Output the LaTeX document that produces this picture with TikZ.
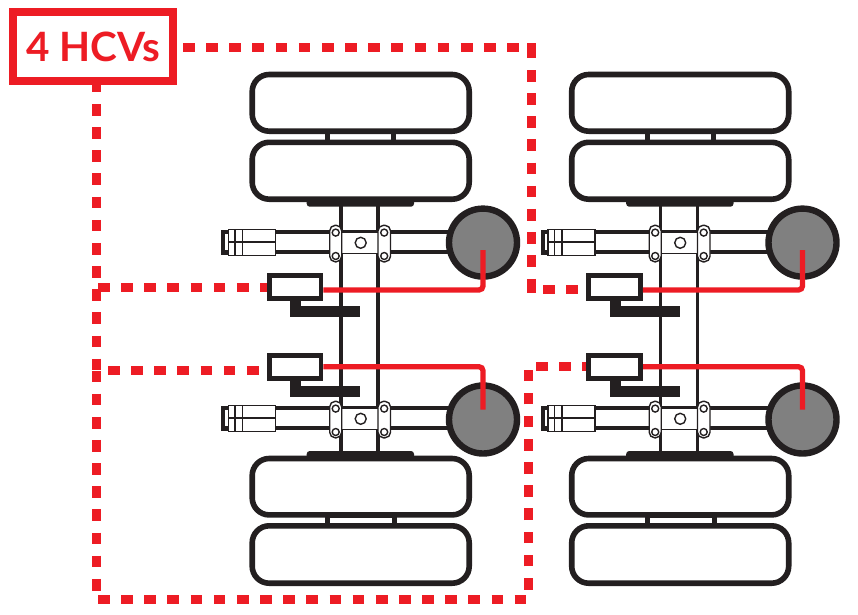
\documentclass[tikz,border=0pt]{standalone}
\usepackage{fontspec}
\setmainfont{Lato}
\definecolor{hcvred}{HTML}{ED1C24}
\definecolor{ink}{HTML}{231F20}
\definecolor{drum}{HTML}{808080}
\tikzset{
  tyre/.style={draw=ink,line width=5.6pt,rounded corners=17pt,fill=white},
  tubeline/.style={draw=ink,line width=4.2pt},
  framebar/.style={draw=ink,line width=3.8pt},
  thinline/.style={draw=ink,line width=1.5pt},
  linkline/.style={draw=ink,line width=5pt},
  redpipe/.style={draw=hcvred,line width=5.3pt,rounded corners=4pt},
  reddash/.style={draw=hcvred,line width=9pt,dash pattern=on 11.7pt off 11.45pt},
  valvebox/.style={draw=ink,line width=4.8pt,fill=white,minimum width=51.8pt,minimum height=22.9pt,inner sep=0pt},
  plate/.style={draw=ink,line width=1.4pt,fill=white,rounded corners=5.5pt},
  bolt/.style={draw=ink,line width=1.4pt,fill=white}
}
% #1 x offset, #2 y of upper tube line, #3 drum centre relative to it
\newcommand{\axlegroup}[3]{%
  \begin{scope}[xshift=#1pt,yshift=-#2pt]
    \draw[tubeline] (275,0) -- (450,0);
    \draw[tubeline] (275,20) -- (450,20);
    \fill[ink] (221,-2.5) rectangle (229,23);
    \fill[white] (225,2) rectangle (229,18);
    \draw[thinline,fill=white] (228.3,-3) rectangle (275.5,23);
    \draw[thinline] (228.3,9.7) -- (275.5,9.7);
    \draw[thinline] (235,-3) -- (235,23);
    \draw[thinline] (242.3,-3) -- (242.3,23);
    \draw[thinline,fill=white] (338,0) rectangle (381,21);
    \draw[bolt] (360.7,10.5) circle (5.5);
    \draw[plate] (329.7,-7) rectangle (341.7,29.5);
    \draw[plate] (378,-7) rectangle (390.5,29.5);
    \draw[bolt] (335.7,0.3) circle (3.5);
    \draw[bolt] (335.7,23.7) circle (3.5);
    \draw[bolt] (384.2,0.3) circle (3.5);
    \draw[bolt] (384.2,23.7) circle (3.5);
    \draw[draw=ink,line width=6.4pt,fill=drum] (483,#3) circle (34);
  \end{scope}}
\newcommand{\tyrebox}[3]{%
  \draw[tyre] (#1+252.2,#2) rectangle (#1+469.2,#3);}
\begin{document}
\begin{tikzpicture}[x=1pt,y=-1pt]
\useasboundingbox (0,0) rectangle (858,614);
\fill[white] (0,0) rectangle (858,614);
\foreach \dx/\n in {0/L,319.5/R}{
  \draw[framebar] (\dx+341,200) -- (\dx+341,456);
  \draw[framebar] (\dx+378,200) -- (\dx+378,456);
  \fill[ink,rounded corners=3pt] (\dx+306.7,190) rectangle (\dx+414,206.7);
  \fill[ink,rounded corners=3pt] (\dx+306.7,451) rectangle (\dx+414,470);
  \tyrebox{\dx}{74.5}{131.2}
  \tyrebox{\dx}{142.3}{199.2}
  \tyrebox{\dx}{458.5}{514.9}
  \tyrebox{\dx}{525.8}{583.2}
  \draw[linkline] (\dx+327.5,129) -- (\dx+327.5,144) (\dx+393.7,129) -- (\dx+393.7,144);
  \draw[linkline] (\dx+327.7,513) -- (\dx+327.7,528) (\dx+394.8,513) -- (\dx+394.8,528);
  \fill[ink] (\dx+325,513) rectangle (\dx+397.3,517.7);
}
\axlegroup{0}{232.3}{10.3}
\axlegroup{0}{408.3}{11.2}
\axlegroup{319.5}{232.3}{10.3}
\axlegroup{319.5}{408.3}{11.2}
% valves
\foreach \dx/\n in {0/L,319.5/R}{
  \foreach \vy in {0,80}{
    \fill[ink] (\dx+290,\vy+298) rectangle (\dx+301,\vy+317);
    \fill[ink] (\dx+290,\vy+306) rectangle (\dx+360,\vy+317);
  }
  \node[valvebox] (va\n) at (\dx+295,287.2) {};
  \node[valvebox] (vb\n) at (\dx+295,366.7) {};
  \coordinate (da\n) at (\dx+483,250);
  \coordinate (db\n) at (\dx+483,409.5);
  \coordinate (ea\n) at (\dx+483,290);
  \coordinate (eb\n) at (\dx+483,366.7);
  \draw[redpipe] (va\n.east |- ea\n) -- (ea\n) -- (da\n);
  \draw[redpipe] (vb\n.east |- eb\n) -- (eb\n) -- (db\n);
}
% label
\node[draw=hcvred,line width=8pt,fill=white,minimum width=160.3pt,minimum height=68.7pt,inner sep=0pt,text=hcvred,font=\fontsize{40.4}{41}\selectfont\bfseries] (label) at (93.2,46.7) {4 HCVs};
% dashed leaders
\coordinate (p1) at (183,47.8);
\coordinate (p2) at (535.3,47.8);
\coordinate (c1) at (531,43.3);
\coordinate (c2) at (531,58);
\coordinate (p4) at (531,70);
\coordinate (p3) at (531,267);
\coordinate (c3) at (531,278.8);
\coordinate (c4) at (531,293);
\coordinate (p7) at (96.5,92);
\coordinate (p8) at (96.5,104);
\coordinate (p9) at (96.5,371);
\coordinate (p10) at (96.5,370.5);
\coordinate (p11) at (96.5,592);
\coordinate (p12) at (98,599.2);
\coordinate (p13) at (527,599.2);
\coordinate (p14) at (528,589.5);
\coordinate (p15) at (528,370);
\coordinate (p6) at (543,289);
\coordinate (p16) at (536,366.7);
\coordinate (p17) at (98,287.3);
\coordinate (p18) at (108,370.5);
\draw[reddash] (p1) -- (p2);
\draw[reddash,dash pattern=on 20pt off 0pt] (c1) -- (c2);
\draw[reddash] (p4) -- (p3);
\draw[reddash,dash pattern=on 20pt off 0pt] (c3) -- (c4);
\draw[reddash] (label.south -| p7) -- (p7);
\draw[reddash] (p8) -- (p9);
\draw[reddash] (p10) -- (p11);
\draw[reddash] (p12) -- (p13);
\draw[reddash] (p14) -- (p15);
\draw[reddash] (p6) -- (vaR.west |- p6);
\draw[reddash] (p16) -- (vbR.west |- p16);
\draw[reddash] (p17) -- (vaL.west |- p17);
\draw[reddash] (p18) -- (vbL.west |- p18);
\node[valvebox,fill=none] at (vbR) {};
\end{tikzpicture}
\end{document}
